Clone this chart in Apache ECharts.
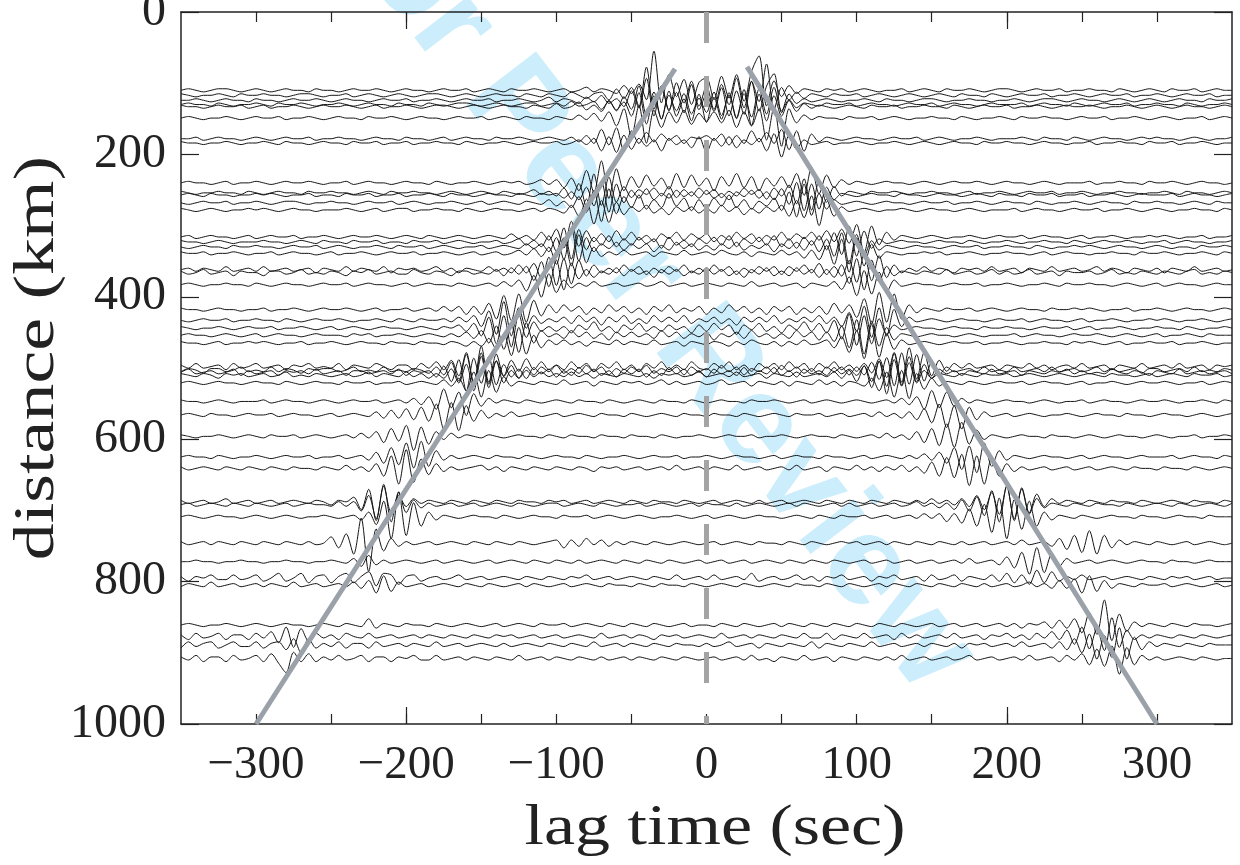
<!DOCTYPE html>
<html>
<head>
<meta charset="utf-8">
<title>Record section of noise cross-correlations</title>
<script src="https://cdn.jsdelivr.net/npm/echarts@6/dist/echarts.min.js"></script>
<style>
  html, body { margin: 0; padding: 0; background: #ffffff; }
  #chart { width: 1240px; height: 865px; }
</style>
</head>
<body>
<div id="chart"></div>
<script>
// Lag-time sampling of every trace (seconds)
const lagStart = -350;
const lagStep = 5;

// Inter-station distance of each trace (km)
const distanceKm = [110, 117, 124, 130, 133, 149, 178, 184, 240, 254, 257, 268, 278, 316, 323, 330, 339, 362, 366, 383,
  418, 433, 444, 454, 465, 498, 503, 506, 510, 521, 547, 566, 596, 625, 641, 688, 692, 709, 746, 772, 795, 805,
  861, 877, 889, 908];

// Trace amplitude unit, expressed as a distance offset (km)
const ampKmPerUnit = 2.2;

// Waveform samples, one row per trace, from -350 s to +350 s every 5 s
const waveforms = [
  [0,1,0,-1,0,1,1,0,-1,0, 1,0,-1,0,1,0,0,-1,1,0, 0,-1,0,1,0,0,1,0,-1,0, 1,0,0,-1,0,1,0,0,1,-1, 0,1,0,-1,1,0,0,1,0,-1, 0,1,-1,0,2,-1,1,0,-2,3, -2,4,-6,25,-8,10,-4,7,-9,5, 8,-6,9,-5,10,-7,12,22,-10,6, -4,3,-2,1,0,-1,1,0,1,-1, 0,1,0,-1,0,0,1,-1,0,1, 0,-1,1,0,0,1,0,-1,0,1, 1,0,-1,0,1,0,0,1,-1,0, 0,1,0,0,-1,1,0,-1,0,1, 0,-1,1,0,0,1,-1,0,1,0, 0],
  [1,0,-1,0,0,1,0,-1,1,0, 0,1,0,0,-1,0,1,1,0,-1, 0,0,1,-1,0,1,0,-1,0,1, 0,-1,0,1,1,0,-1,0,1,0, -1,0,1,0,0,-1,1,0,-1,1, 0,-1,2,0,-2,1,2,-3,4,-2, 5,-7,18,-9,6,-10,8,-5,9,-7, 6,-9,7,-6,11,-8,9,-4,20,-9, 5,-3,2,-2,1,0,-1,1,0,0, 1,-1,0,1,0,-1,0,1,0,-1, 0,1,0,-1,1,0,0,-1,1,0, -1,0,1,0,0,1,-1,0,0,1, 0,-1,0,1,0,0,1,-1,0,0, 1,0,-1,0,1,0,0,1,-1,0, 0],
  [0,0,1,0,-1,0,1,0,0,-1, 1,0,0,-1,0,1,0,0,1,0, -1,0,1,0,0,-1,0,1,0,0, 1,-1,0,0,1,0,-1,0,1,0, 0,1,-1,0,0,1,0,-1,0,2, -1,1,0,-2,2,-1,3,-2,1,-4, 6,-5,14,-10,9,-6,5,-8,10,-6, 4,-7,8,-10,6,-9,12,-7,9,17, -8,4,-2,1,-1,0,1,0,-1,0, 0,1,0,-1,1,0,0,-1,0,1, 1,0,-1,0,0,1,0,0,-1,0, 0,1,0,-1,0,1,1,0,-1,0, 1,0,0,-1,0,1,0,-1,0,1, 0,-1,0,1,0,0,-1,1,0,0, 1],
  [0,1,0,0,-1,1,0,-1,0,0, 1,0,-1,1,0,0,1,0,-1,0, 0,1,0,-1,0,1,0,0,-1,1, 0,0,-1,1,0,-1,0,1,1,0, -1,0,1,0,-1,0,1,1,-1,0, 1,-1,2,-1,0,2,-3,2,-4,5, -3,12,-7,8,-9,6,-4,7,-6,4, -5,8,-7,6,-9,7,-8,10,-6,11, -4,3,-2,1,0,-1,1,0,0,1, -1,0,1,0,0,-1,0,1,0,0, 1,-1,0,1,0,0,-1,0,1,0, 0,0,1,-1,0,1,0,0,-1,1, 0,-1,0,1,0,0,1,-1,0,0, 1,0,0,-1,1,0,-1,0,0,1, 0],
  [1,0,0,-1,0,1,0,0,1,-1, 0,1,-1,0,0,1,0,-1,0,1, 0,0,1,0,-1,0,1,-1,0,0, 1,0,-1,0,1,1,0,-1,0,1, 0,-1,0,1,0,0,-1,1,0,-1, 2,-1,0,3,-2,1,-3,4,-2,3, -6,9,-11,7,-8,10,-6,5,-9,8, -10,6,-8,9,-7,11,-12,8,-9,7, -6,4,-3,2,-1,1,0,-1,0,1, 0,-1,1,0,0,1,-1,0,0,1, 0,0,-1,1,0,-1,0,1,0,0, 1,-1,0,0,1,0,-1,0,1,0, 0,1,0,-1,0,0,1,0,-1,0, 1,0,-1,0,1,0,0,-1,0,1, 0],
  [0,1,0,-1,0,0,1,0,-1,0, 1,0,0,1,-1,0,0,1,0,-1, 0,1,0,0,-1,1,0,0,1,0, -1,0,1,0,0,-1,0,1,0,0, 1,-1,0,1,0,-1,1,0,0,-1, 1,0,-1,2,-1,3,-2,4,-5,6, -12,8,-16,5,-6,4,-3,5,-4,3, -2,4,-3,5,-6,4,-5,6,-14,7, -18,6,-3,2,-1,1,0,0,-1,1, 0,0,1,-1,0,1,0,-1,0,0, 1,0,0,-1,1,0,-1,0,0,1, 0,-1,1,0,0,1,0,0,-1,0, 1,0,0,1,-1,0,0,1,0,-1, 0,1,0,-1,0,0,1,-1,0,1, 0],
  [0,0,1,-1,0,1,0,0,-1,0, 1,0,-1,0,1,0,0,1,-1,0, 0,1,0,0,-1,0,1,0,0,-1, 1,0,0,-1,0,1,-1,0,1,0, 0,-1,1,0,0,1,0,-1,0,1, 0,-1,1,-2,2,-3,6,-4,7,-8, 5,-3,4,-2,3,-1,2,-3,1,0, 2,-1,3,-4,2,-3,5,-2,4,-3, 6,-7,5,-8,3,-2,1,0,-1,0, 1,0,0,-1,0,1,0,0,1,-1, 0,1,0,-1,0,0,1,0,-1,0, 0,0,1,0,-1,1,0,0,-1,1, 0,-1,0,1,0,0,-1,0,1,0, 1,0,0,-1,0,1,0,-1,0,0, 1],
  [1,0,0,-1,0,0,1,0,-1,0, 0,1,0,-1,1,0,0,-1,0,1, 0,0,-1,1,0,0,1,-1,0,0, 1,-1,0,0,1,0,0,-1,1,0, -1,0,0,1,0,-1,0,1,0,0, 1,-1,0,2,-1,3,-5,4,-6,5, -4,3,-2,2,-5,3,-1,2,-3,4, -6,3,-2,4,-3,2,-1,3,-5,6, -9,5,-4,2,-1,0,1,-1,0,0, 1,0,-1,0,0,1,0,-1,0,1, 0,-1,0,1,0,0,-1,1,0,0, 1,0,0,-1,0,1,0,0,-1,0, 0,1,-1,0,0,1,0,0,-1,1, 0,0,1,-1,0,0,1,0,-1,0, 0],
  [0,1,0,0,-1,0,1,-1,0,0, 1,0,-1,0,1,0,0,1,0,-1, 0,0,1,-1,0,1,0,0,-1,0, 1,0,0,-1,1,0,-1,0,0,1, 0,-1,0,1,0,1,-1,0,2,-1, 2,-3,3,-5,8,-6,14,-10,9,-5, 4,-3,5,-2,3,-4,6,-3,5,-2, 3,-5,4,-2,6,-3,4,-5,3,-2, 4,-3,6,-8,10,-7,5,-3,2,-1, 1,0,-1,0,1,0,0,-1,0,1, 0,-1,0,1,0,0,1,0,-1,0, 1,0,0,-1,0,1,0,-1,0,0, 0,1,-1,0,0,1,0,0,-1,1, 0,0,1,0,-1,0,1,0,0,-1, 0],
  [1,0,-1,0,0,1,0,0,-1,1, 0,-1,0,1,0,0,-1,1,0,0, 1,0,0,-1,0,1,0,-1,1,0, 0,1,0,0,-1,0,1,0,-1,0, 1,0,-1,1,0,-1,0,2,-1,1, -2,3,-4,6,-9,12,-8,10,-6,4, -3,2,-1,3,-2,4,-3,2,-2,3, -1,2,-3,1,-2,3,-1,2,-4,3, -2,5,-7,9,-11,8,-6,4,-2,1, 0,-1,1,0,0,1,0,-1,0,0, 1,0,0,-1,0,1,-1,0,0,1, 0,-1,0,1,0,0,1,-1,0,0, 1,0,-1,0,0,1,0,0,-1,0, 0,1,0,-1,1,0,0,-1,0,1, 0],
  [0,1,0,-1,1,0,0,-1,0,0, 1,0,1,0,-1,0,0,1,-1,0, 0,-1,1,0,0,1,-1,0,0,1, -1,0,0,1,0,-1,1,0,0,-1, 0,1,0,0,-1,1,0,-1,1,0, 1,-2,2,-3,5,-7,9,-11,7,-5, 3,-2,4,-3,1,-2,3,-1,2,-2, 3,-2,1,-3,2,-1,3,-2,2,-3, 4,-6,8,-10,7,-9,5,-3,1,0, -1,0,1,0,0,-1,1,0,0,-1, 0,1,0,0,-1,0,1,0,-1,1, 0,0,-1,1,0,0,1,-1,0,0, 1,-1,0,0,1,0,-1,0,1,0, 0,0,1,-1,0,1,0,0,-1,0, 1],
  [0,-1,0,1,0,0,1,-1,0,0, 1,0,-1,0,1,1,0,-1,0,0, 1,0,0,-1,0,1,0,0,1,-1, 0,1,0,-1,0,0,1,0,-1,0, 1,-1,0,1,0,-1,1,0,-1,2, -2,1,-3,4,-6,8,-12,9,-7,4, -3,5,-4,2,-3,6,-2,3,-5,2, -4,3,-2,5,-3,2,-4,1,-2,3, -5,7,-9,12,-8,6,-4,2,-1,0, 1,0,-1,0,1,0,0,-1,0,1, 0,0,1,-1,0,0,1,0,-1,0, 1,0,0,-1,1,0,-1,0,0,1, 0,-1,0,1,0,0,-1,1,0,0, 1,0,0,-1,0,1,0,-1,1,0, 0],
  [1,0,-1,0,1,0,-1,0,0,1, 0,1,0,-1,0,1,0,0,-1,0, 0,0,1,0,-1,0,1,-1,0,1, 1,-1,0,0,1,0,0,-1,1,0, -1,0,1,0,0,-1,0,1,-1,1, 0,-2,3,-4,7,-9,6,-8,5,-3, 2,-1,3,-2,1,-3,2,-1,2,-2, 1,-2,3,-1,2,-3,1,-2,2,-1, 3,-4,6,-5,9,-10,7,-4,2,-1, 0,1,0,-1,0,0,1,0,-1,0, 1,0,0,-1,0,1,0,-1,0,0, 0,1,-1,0,1,0,0,-1,0,1, 0,0,1,-1,0,0,1,0,-1,0, 1,0,-1,0,0,1,0,0,-1,1, 0],
  [0,1,-1,0,1,0,0,-1,0,1, -1,0,1,0,0,1,-1,0,0,1, 0,-1,0,1,0,0,1,0,-1,0, 1,0,-1,1,0,-1,0,1,0,-1, 0,1,0,-1,2,-1,1,-2,3,-2, 5,-7,10,-6,4,-3,2,-3,4,-2, 3,-2,1,-3,2,-1,3,-2,2,-1, 2,-3,1,-2,3,-1,2,-3,1,-2, 3,-2,2,-1,3,-2,4,-3,5,-4, 8,-10,7,-5,3,-2,1,0,-1,0, 1,0,-1,0,0,1,0,-1,0,1, 0,0,1,-1,0,1,0,0,-1,0, 1,-1,0,0,1,0,-1,0,0,1, 0,1,0,-1,0,0,1,-1,0,0, 1],
  [1,0,0,-1,0,1,0,-1,0,0, 0,1,0,0,-1,0,1,0,-1,1, 0,0,-1,1,0,0,1,-1,0,0, -1,1,0,0,1,-1,0,1,0,-1, 0,0,1,-1,0,2,-2,1,-3,4, -6,9,-11,8,-5,3,-2,4,-3,2, -2,3,-1,2,-4,3,-2,1,-3,2, -1,3,-2,4,-3,2,-1,3,-2,4, -3,2,-4,3,-2,4,-5,6,-8,10, -9,7,-4,2,-1,0,1,0,0,-1, 0,1,0,0,-1,1,0,-1,0,0, 1,0,-1,0,0,1,0,0,-1,1, 0,-1,0,1,0,0,1,0,-1,0, 0,1,-1,0,1,0,0,-1,0,0, 1],
  [0,-1,0,1,0,0,-1,1,0,0, 1,0,0,-1,0,1,0,0,1,-1, 0,1,0,-1,0,0,1,0,-1,1, 0,0,1,-1,0,1,0,-1,0,0, 1,-1,0,1,0,-1,2,-1,2,-3, 6,-8,12,-9,6,-3,2,-1,3,-2, 2,-1,2,-3,1,-2,3,-1,2,-2, 1,-2,2,-1,3,-2,1,-1,2,-3, 2,-1,3,-2,4,-3,5,-6,9,-11, 8,-6,4,-2,1,0,-1,0,1,0, 0,-1,0,1,0,0,1,-1,0,0, 1,0,0,-1,1,0,-1,0,0,1, 0,1,0,-1,0,1,0,0,-1,0, 1,0,-1,0,0,-1,1,0,0,1, 0],
  [1,0,0,1,-1,0,0,1,0,-1, 0,0,1,-1,0,1,0,0,-1,0, 1,-1,0,0,1,0,-1,0,1,0, 0,1,-1,0,0,1,0,-1,0,1, -1,0,1,-1,0,2,-1,3,-2,4, -7,10,-8,12,-6,4,-2,1,-1,2, -1,0,1,-2,1,0,-1,2,-1,0, 1,-1,2,0,-1,1,-2,1,0,-1, 2,-1,1,-3,2,-4,5,-7,9,-12, 10,-8,6,-3,1,0,-1,0,0,1, 0,1,-1,0,0,1,0,-1,0,0, 1,0,0,-1,0,1,-1,0,1,0, 0,-1,0,0,1,0,0,-1,1,0, 0,1,0,-1,0,0,1,0,-1,1, 0],
  [0,1,-1,1,0,-1,2,-1,0,1, -1,2,-1,0,1,-1,0,1,-2,1, 0,-1,2,-1,1,0,-1,2,-2,1, 0,1,-1,0,2,-1,1,-2,1,0, -1,2,-1,1,-2,3,-2,4,-6,8, -10,7,-9,6,-4,3,-2,1,-2,3, -1,2,-3,1,-2,2,-1,3,-2,1, -2,3,-1,2,-3,1,-2,2,-1,2, -3,2,-1,3,-2,4,-3,2,-4,6, -8,10,-7,9,-5,3,-2,1,-1,2, -1,1,0,-2,1,0,1,-1,2,-1, 0,1,-2,1,0,-1,2,-1,0,1, -1,0,2,-1,1,0,-2,1,0,-1, 1,-2,1,0,-1,2,-1,0,1,-1, 0],
  [1,-1,0,2,-1,0,1,-2,1,0, 0,-2,1,1,-1,0,2,-1,0,-1, 1,0,-2,1,0,2,-1,0,1,-1, -1,2,0,-1,1,0,-2,1,1,-1, 0,-1,2,-2,3,-1,4,-5,7,-9, 8,-11,6,-4,2,-3,1,-1,3,-2, 2,-1,1,-3,2,-1,2,-2,1,-1, 3,-1,2,-2,1,-3,2,-1,3,-2, 1,-2,3,-1,2,-3,2,-3,5,-7, 9,-11,8,-6,4,-2,1,0,-1,1, 0,-1,2,-1,0,1,-1,0,2,-1, 1,-1,0,2,-1,0,1,-2,1,0, 0,1,-1,0,2,-1,0,-1,1,0, -1,1,0,-1,1,2,-1,0,-1,1, 0],
  [0,1,0,-1,0,0,1,0,0,-1, 1,0,-1,0,1,0,0,-1,0,1, 0,0,1,-1,0,1,0,0,-1,0, 1,-1,0,1,0,0,-1,1,0,-1, 0,1,-1,2,-1,3,-4,6,-8,7, -5,3,-2,1,-1,2,-1,0,1,-1, 0,1,-1,0,2,-1,0,1,-1,0, 1,0,-1,1,0,-1,2,-1,0,1, -1,0,1,-2,1,0,-1,2,-3,5, -7,9,-6,8,-5,3,-1,0,1,0, 0,-1,0,1,0,0,1,-1,0,0, 1,0,-1,0,0,1,0,-1,1,0, 0,1,0,0,-1,0,1,0,-1,0, 1,-1,0,1,0,0,-1,0,1,0, 0],
  [1,0,0,-1,0,1,0,0,-1,0, 0,1,-1,0,0,1,0,-1,0,1, 0,0,1,0,-1,0,1,-1,0,0, 1,-1,0,1,-1,2,-1,2,-3,2, -3,4,-6,9,-7,10,-8,6,-4,3, -2,3,-1,2,-3,1,-2,3,-1,2, -2,1,-3,2,-1,3,-2,1,-1,2, -3,1,-2,3,-1,2,-2,1,-3,2, -1,2,-3,1,-2,2,-3,4,-2,3, -5,7,-9,11,-8,10,-6,3,-2,1, 0,-1,1,0,0,1,-1,0,1,0, -1,0,1,0,0,-1,1,0,0,1, 0,1,0,-1,0,0,1,-1,0,0, 1,0,-1,0,1,0,0,-1,0,1, 0],
  [0,-1,0,1,0,0,1,-1,0,0, 1,0,0,-1,1,0,-1,0,1,0, 0,1,0,-1,0,0,1,0,-1,1, 0,-1,1,0,0,1,-1,2,-1,3, -4,6,-9,12,-10,8,-5,3,-2,1, -1,2,-2,3,-1,2,-3,2,-1,3, -2,1,-2,3,-1,2,-1,3,-2,1, -1,2,-2,1,-3,2,-1,2,-1,3, -2,1,-1,2,-1,3,-2,2,-4,5, -7,9,-11,8,-10,7,-4,2,-1,0, 1,0,-1,0,1,0,0,-1,0,1, 0,0,1,-1,0,1,0,0,-1,0, 1,-1,0,0,1,0,-1,0,0,1, 0,1,0,-1,0,0,1,0,-1,0, 1],
  [1,0,-1,0,0,1,0,-1,0,1, 0,0,1,-1,0,0,1,0,-1,0, 1,-1,0,1,0,-1,0,1,0,0, -1,0,1,0,-1,1,0,2,-2,3, -5,7,-10,8,-12,9,-6,4,-2,1, -2,1,-3,2,-1,4,-2,1,-3,2, -1,3,-2,1,-2,2,-1,1,-3,2, -2,3,-1,2,-4,2,-1,3,-2,1, -3,2,-1,4,-2,3,-3,5,-7,9, -11,8,-10,6,-4,2,-1,0,1,0, 0,-1,0,1,0,0,-1,1,0,0, 1,0,0,-1,0,1,0,0,1,-1, 0,1,-1,0,0,1,0,-1,0,0, 1,0,0,-1,1,0,-1,0,0,1, 0],
  [0,1,0,0,-1,0,1,0,-1,0, 1,-1,0,1,0,0,-1,0,1,0, 0,0,-1,1,0,1,-1,0,0,1, 0,-1,0,1,0,-1,1,-1,2,-2, 3,-5,6,-9,7,-11,8,-5,3,-1, 1,-2,3,-1,2,-2,1,-3,2,-1, 2,-1,1,-2,3,-1,2,-2,1,-1, 2,-3,1,-1,2,-2,3,-1,1,-2, 1,-2,3,-1,2,-3,2,-4,6,-8, 10,-12,9,-7,5,-3,1,0,-1,0, 1,0,0,-1,0,1,0,-1,0,0, 0,1,-1,0,1,0,0,-1,0,1, 0,0,1,0,-1,0,1,0,-1,0, 1,-1,0,0,1,0,-1,1,0,0, 0],
  [1,0,0,-1,0,1,-1,0,0,1, 0,1,0,-1,0,0,1,-1,0,0, 1,0,-1,0,1,0,0,-1,1,0, 0,-1,1,0,0,-1,1,0,-2,1, -2,3,-4,6,-8,10,-7,5,-3,2, -1,2,-1,1,-2,1,0,-1,2,-1, 1,0,-1,2,-1,0,1,-2,1,0, -1,1,0,-2,1,-1,2,0,-1,1, -2,1,-1,2,-1,0,2,-3,4,-6, 8,-10,12,-9,6,-4,2,-1,0,1, 0,-1,0,1,0,0,1,-1,0,0, 1,0,-1,0,0,1,0,0,-1,1, 0,1,0,-1,0,1,-1,0,0,1, 0,0,1,-1,0,0,1,0,-1,0, 0],
  [1,-1,2,-1,0,1,-2,2,-1,0, 2,-1,0,1,-2,1,0,2,-1,0, -1,2,-2,1,0,-1,2,0,-2,1, 1,-2,2,-1,3,-2,4,-6,9,-11, 13,-10,8,-6,4,-3,5,-2,3,-2, 1,-2,3,-1,2,-3,2,-1,3,-2, 1,-3,2,-1,3,-2,1,-2,3,-1, -2,2,-1,3,-2,1,-3,2,-1,2, -2,3,-1,2,-3,2,-1,3,-2,1, -3,2,-4,5,-7,9,-10,12,-8,9, -6,4,-3,2,-1,2,-1,0,1,-2, 1,0,-1,2,-1,1,-2,0,1,-1, 2,-1,0,1,-2,1,0,-1,2,-1, 0,1,-1,2,-1,0,1,-2,1,0, 1],
  [-1,1,0,-2,1,1,-1,0,2,-1, 0,-1,2,-1,1,0,-2,1,0,1, 1,-1,0,2,-1,0,-1,2,-1,0, -1,1,0,-2,2,-3,5,-7,10,-8, 11,-9,6,-4,3,-5,2,-3,2,-1, 3,-2,1,-2,3,-1,2,-3,1,-2, 2,-1,3,-2,1,-1,2,-3,2,-1, 1,-2,3,-1,2,-3,1,-1,2,-2, 3,-1,2,-2,1,-3,2,-1,2,-3, 2,-3,5,-6,8,-10,11,-9,10,-7, 5,-3,2,-1,0,1,-1,2,-1,0, -1,2,-1,0,1,-1,2,-1,0,1, -1,0,2,-1,1,-1,0,1,-2,1, 1,-1,0,1,-1,2,-1,0,-1,1, 0],
  [0,2,-1,0,1,-1,0,2,-2,1, -1,0,1,-2,1,0,1,-1,2,-1, 0,1,-2,1,1,-1,0,1,-1,2, -2,1,0,1,-3,4,-6,8,-12,9, -7,10,-8,5,-3,2,-4,3,-1,2, -3,1,-2,3,-1,2,-2,1,-3,2, -1,2,-3,1,-2,3,-1,2,-2,1, -3,2,-1,1,-2,3,-2,1,-1,3, -2,1,-3,2,-1,1,-2,3,-1,2, -2,4,-6,7,-9,12,-8,10,-6,5, -4,2,-1,1,-2,1,0,-1,2,-1, 0,1,-2,1,0,-1,1,0,2,-1, 1,-1,0,-1,2,0,-1,1,0,-2, 1,0,-1,2,-1,0,1,-1,0,1, -1],
  [1,0,-1,1,0,-2,1,0,1,-1, 0,1,-1,0,2,-1,0,-1,1,0, -1,0,1,-1,0,2,-1,1,0,-1, 2,-1,1,-2,1,-2,4,-5,7,-10, 12,-8,9,-5,3,-2,3,-1,2,-1, 1,-1,2,-1,1,-2,1,0,-1,1, 0,-1,1,-2,1,0,1,-1,0,2, -1,0,1,-1,2,-1,0,1,-2,1, 0,-1,2,-1,0,1,-1,2,-2,3, -4,6,-8,9,-12,10,-7,8,-5,3, -2,1,0,-1,1,0,-1,1,0,0, 1,-1,0,1,0,-1,0,1,0,-1, 0,1,0,-1,1,0,0,-1,0,1, -1,0,1,0,-1,1,0,0,1,-1, 0],
  [0,1,0,-1,0,1,0,0,-1,0, 1,0,0,-1,1,0,-1,0,1,0, 0,-1,1,0,0,1,-1,0,0,1, -1,0,1,0,-1,2,-2,3,-5,7, -9,8,-6,4,-2,1,0,-1,1,0, -1,2,-1,0,1,-2,1,0,-1,1, 0,1,-1,0,2,-1,1,-1,0,1, -1,0,2,-1,0,1,-2,1,0,-1, 1,-2,1,0,-1,2,-1,1,-2,1, 0,-2,3,-5,7,-9,8,-10,6,-4, 3,-2,1,0,-1,1,0,-1,0,1, 0,0,1,-1,0,1,0,0,-1,0, 1,-1,0,0,1,0,-1,0,1,0, 0,1,0,-1,0,0,1,-1,0,1, 0],
  [1,0,0,-1,0,1,0,-1,0,0, 0,1,-1,0,1,0,0,-1,0,1, 0,-1,0,1,0,0,1,-1,0,1, -1,2,-2,3,-5,8,-4,6,-9,5, -3,2,-1,1,0,-1,1,0,-1,0, 1,0,-1,1,0,0,-1,1,0,-1, 0,1,0,-1,1,0,0,-1,1,0, -1,0,1,0,0,-1,1,0,0,1, 0,-1,0,1,-1,0,1,0,-1,0, 1,0,-1,0,1,-1,2,-2,3,-5, 7,-4,6,-3,2,-1,1,0,-1,0, 1,0,0,-1,0,1,0,-1,0,0, 1,-1,0,1,0,0,-1,0,1,0, 0,1,0,-1,0,0,1,0,-1,1, 0],
  [0,1,0,-1,1,0,0,-1,0,1, 0,0,1,-1,0,1,0,0,-1,0, 1,-1,0,1,0,-1,2,-2,3,-2, 4,-3,5,-4,7,-9,8,-10,6,-4, 3,-2,1,-1,2,-1,0,1,-1,0, 1,-1,0,1,0,-1,1,0,0,-1, 1,0,-1,0,1,0,-1,1,0,0, -1,1,0,0,-1,1,0,-1,0,1, 0,-1,1,0,0,1,-1,0,1,-1, 0,1,-1,2,-1,1,-2,2,-3,4, -5,7,-8,6,-9,5,-3,2,-1,0, 1,-1,0,1,0,-1,0,0,1,0, -1,0,1,0,0,-1,1,0,0,-1, 0,1,0,0,-1,0,1,0,-1,0, 1],
  [1,0,-1,0,0,1,0,-1,0,1, 0,-1,1,0,0,1,-1,0,1,0, -1,0,1,-1,2,-1,3,-4,5,-3, 7,-9,6,-5,3,-2,2,-1,1,0, -1,1,0,-1,0,1,0,0,-1,1, 0,-1,1,0,0,-1,1,0,0,-1, 1,0,0,-1,1,0,-1,0,0,1, 0,-1,0,1,0,0,1,-1,0,0, 1,0,-1,0,1,0,0,-1,1,0, -1,0,1,-1,2,-1,1,-2,3,-4, 5,-6,8,-7,9,-5,4,-2,1,0, -1,0,1,0,0,-1,1,0,0,-1, 0,1,0,-1,0,1,0,0,-1,0, 1,0,-1,0,0,1,-1,0,0,1, 0],
  [0,1,0,0,-1,1,0,-1,0,0, 1,0,-1,0,1,0,0,1,-1,0, 0,1,-1,0,1,-2,3,-4,6,-5, 9,-7,10,-6,4,-2,1,-1,0,1, 0,-1,1,0,0,-1,1,0,-1,0, 1,0,0,-1,1,0,-1,0,0,1, 0,-1,0,1,0,0,1,-1,0,0, 1,0,-1,0,1,0,0,-1,0,1, -1,0,1,0,0,-1,1,0,0,-1, 0,1,-1,0,1,0,-1,1,-1,2, -2,3,-4,6,-8,7,-10,9,-6,4, -2,1,0,-1,0,1,0,0,-1,0, 1,-1,0,1,0,0,-1,0,1,0, 0,0,1,-1,0,1,0,0,-1,1, 0],
  [1,-1,0,1,0,-1,1,0,-1,1, 0,-1,1,0,-1,1,0,0,-1,1, 0,-1,2,-1,1,-2,3,-5,8,-10, 12,-9,6,-4,3,-2,1,-1,0,1, 2,-1,1,-2,1,0,-1,1,0,-1, 1,0,-1,1,0,-2,1,0,1,-1, 0,1,-1,0,1,-1,2,-1,0,1, -1,1,0,-1,2,-1,0,1,-1,0, 1,-1,2,-1,0,1,-2,1,0,-1, 2,-1,1,-2,1,-1,2,-2,1,-3, 4,-5,7,-6,9,-11,8,-10,7,-5, 3,-2,1,-1,0,1,-1,0,1,-1, 0,1,-1,0,1,0,-1,1,0,0, -1,1,0,0,-1,1,0,-1,0,1, 0],
  [1,-1,0,1,-1,0,2,-1,0,1, -1,0,1,-1,0,1,0,-1,1,0, -2,1,0,3,-5,8,-12,10,-7,4, -3,2,-1,1,0,-1,1,0,-1,1, 0,-1,1,0,-1,1,0,0,-1,1, 0,1,-1,0,1,-1,0,1,0,-1, 1,0,-1,1,0,0,-1,1,0,-1, 0,1,-1,0,1,0,-1,1,-1,0, 1,-1,0,1,0,-1,1,0,-1,1, 0,-1,1,0,-1,1,0,-1,1,-1, 2,-1,1,-2,2,-3,4,-5,6,-8, 10,-12,9,-7,5,-3,2,-1,1,0, -1,1,0,-1,1,0,0,-1,1,0, -1,0,1,0,-1,1,0,0,-1,1, 0],
  [0,1,-1,0,1,0,-1,1,0,-1, 1,0,-1,0,1,-1,0,1,0,0, -1,2,-1,2,-4,6,-9,13,-11,8, -5,3,-2,1,-1,0,1,-1,0,1, -1,0,1,0,-1,1,0,-1,0,1, 1,-1,0,1,0,-1,1,0,-1,0, 0,1,-1,0,1,0,-1,0,1,-1, 1,0,0,-1,1,-1,0,1,0,-1, 0,1,-1,1,0,-1,0,1,-1,1, -1,0,1,-1,0,1,-1,0,2,-1, 1,-2,1,-3,3,-4,5,-7,9,-11, 12,-9,10,-6,4,-2,1,0,-1,1, 0,-1,1,0,0,-1,1,0,-1,0, 1,0,-1,1,0,-1,0,1,0,-1, 1],
  [0,1,0,-1,0,1,0,0,-1,0, 1,0,-1,0,1,0,-1,0,0,1, 0,-1,0,1,-2,3,-5,10,-14,16, -12,9,-6,3,-2,1,0,-1,0,1, 0,0,-1,1,0,-1,0,1,0,0, -1,1,0,0,1,-1,0,1,0,-1, 0,1,0,-1,0,0,1,0,-1,0, 1,-1,0,1,0,-1,0,1,0,0, -1,0,1,0,-1,1,0,-1,1,0, 0,1,-1,0,1,-1,0,1,-1,2, -1,2,-3,2,-4,5,-6,8,-10,12, -14,11,-8,10,-6,3,-2,1,0,-1, 1,0,-1,0,1,0,0,-1,1,0, 0,-1,0,1,0,0,-1,1,0,0, 0],
  [1,-1,0,1,-1,1,0,-1,1,0, -1,1,0,-1,1,0,-1,1,-1,0, 4,-3,6,-7,16,-18,9,-5,3,-2, 1,-1,0,1,-1,0,1,0,-1,1, 0,-1,1,0,-1,1,0,-1,0,1, 2,-3,2,-2,3,-1,2,-2,1,-1, 1,0,-1,1,0,-1,0,1,0,-1, 0,1,-1,0,1,0,-1,1,0,0, -1,1,0,-1,1,0,-1,0,1,0, 1,-1,0,1,-1,1,0,-1,1,0, -1,1,0,-1,1,-1,0,1,-1,0, 1,-1,2,-1,0,1,-2,3,-4,5, -6,8,-7,5,-3,2,-1,1,0,-1, 1,0,-1,0,1,-1,0,1,0,-1, 0],
  [0,0,1,0,0,-1,0,0,1,0, 0,-1,0,0,1,0,0,-1,0,0, 1,0,-1,2,-3,4,-2,1,-1,0, 1,0,-1,0,1,-1,0,1,0,-1, 0,1,-1,0,1,0,-1,1,0,-1, 1,0,-1,1,-1,0,1,0,-1,1, 0,-1,1,0,-1,1,0,-1,0,1, -1,0,1,-1,0,1,-1,0,1,0, -1,1,0,-1,1,0,-1,1,0,-1, 0,1,-1,0,1,-1,0,1,-1,0, 1,-1,0,1,-1,2,-1,0,1,-2, 3,-4,6,-8,9,-7,5,-3,2,-1, 0,1,-1,0,1,0,-1,0,1,0, 0,-1,1,0,0,-1,0,1,0,0, 0],
  [1,-2,1,0,2,-1,-1,2,-1,0, 2,-2,0,3,-2,0,3,-3,1,2, -3,1,3,-3,1,4,-5,3,2,-4, 1,2,-2,0,1,-1,0,2,-1,0, 1,-1,0,1,0,-1,1,0,-1,1, 0,-1,1,0,2,-1,0,1,-1,0, 1,0,-1,1,0,-1,2,-1,0,1, -1,2,-1,0,1,-1,3,-2,0,1, -1,0,2,-1,1,-2,1,0,2,-1, 0,1,-2,1,0,2,-1,0,1,-2, 2,-1,0,2,-2,1,0,-1,2,-2, 3,-3,2,-4,5,-3,4,-2,1,-1, 2,-1,0,1,-1,0,1,0,-1,1, 0,-1,1,0,1,-1,0,1,-1,0, 0],
  [-1,1,0,-1,2,-1,0,1,-1,0, 1,-1,1,0,-1,2,-1,0,1,-1, 0,1,-1,2,-2,3,-5,6,-4,2, -1,0,1,-1,0,1,0,-1,1,0, -1,1,0,-1,0,1,-1,1,0,-1, 0,1,-1,0,1,0,-1,1,0,0, -1,1,0,-1,1,0,0,-1,1,0, -1,0,1,0,-1,1,0,-1,0,1, 0,-1,1,0,0,-1,1,0,-1,1, 0,-1,0,1,-1,1,0,-1,1,0, -1,1,0,-1,1,0,-1,1,-1,0, 1,-1,0,2,-1,1,-2,3,-2,4, -5,6,-4,3,-2,1,0,-1,1,0, 0,1,-1,0,1,0,-1,0,1,-1, 0],
  [0,1,0,-1,0,0,1,0,-1,0, 1,0,-1,0,1,0,0,-1,0,1, 0,-1,1,0,-1,4,-2,1,0,-1, 1,0,0,-1,1,0,-1,0,1,0, -1,0,1,-1,0,1,0,-1,1,0, 0,1,-1,0,1,0,-1,1,0,-1, 1,0,-1,1,0,-1,0,1,-1,0, 0,-1,1,0,-1,1,0,-1,0,1, -1,1,0,-1,1,0,-1,1,0,-1, 1,0,-1,1,0,-1,1,0,-1,0, 1,-1,0,1,-1,0,1,-1,0,1, -1,1,-2,1,0,2,-2,3,-2,4, -5,8,-6,16,-10,7,-4,2,-1,1, 0,-1,1,0,-1,1,0,0,-1,0, 1],
  [1,-2,2,-1,0,2,-2,1,1,-2, 2,-1,3,-4,6,-7,5,-3,2,-1, 1,-2,2,0,-1,2,-1,0,1,-1, 0,1,-1,1,0,-1,1,0,-1,1, 0,-1,1,0,1,-1,0,1,-1,0, 1,-1,0,1,0,-1,2,-1,0,1, -1,1,0,-2,1,0,1,-1,0,1, 0,-1,2,-1,0,1,-1,1,0,-1, 1,0,-1,2,-1,-1,2,-2,1,0, -1,2,-1,0,1,-2,2,-1,1,-1, 0,1,-1,2,-1,0,1,-2,1,0, 2,-1,1,-2,2,-1,3,-2,4,-5, 6,-8,5,-9,12,-7,4,-2,1,-1, 1,0,-1,1,0,-1,1,0,-1,0, 1],
  [-2,2,-1,1,2,-2,0,2,-1,-1, 2,-2,1,2,-3,4,-5,4,-2,1, -1,2,-2,1,1,-2,2,-1,0,1, -1,1,0,-1,2,-1,0,1,-1,0, 1,0,-1,1,-1,0,1,0,-1,1, 0,-1,1,0,-1,2,-1,0,1,-1, 1,0,-1,1,0,-1,1,0,0,-1, 1,-1,0,2,-1,0,1,-2,1,0, -1,1,0,-1,2,-2,1,0,-1,1, 0,-1,2,-1,0,1,-1,0,1,-1, 1,0,-1,1,-2,1,0,1,-1,0, 1,-1,2,-1,0,1,-2,2,-3,4, -5,7,-9,6,-8,11,-9,5,-3,2, -1,1,0,-1,1,0,-1,1,0,0, 0],
  [1,-1,2,-2,1,1,-2,2,-1,0, 2,-2,3,-3,-9,4,-2,3,-2,1, -1,2,-1,0,2,-2,1,1,-2,1, 0,2,-1,-1,2,-1,0,1,-1,1, 0,-1,1,0,-1,2,-1,0,1,-1, 1,0,-1,1,0,-1,1,-1,0,1, -1,1,0,-1,1,0,-1,1,0,-1, 0,1,-1,0,1,-1,2,-1,0,-2, 1,0,-1,2,-1,0,1,-2,1,0, -1,1,0,-1,1,-1,2,-1,0,1, -1,0,1,-1,0,2,-1,0,1,-1, 0,1,-1,2,-1,0,1,-2,2,-1, 3,-4,6,-5,8,-10,7,-4,2,-1, 1,-1,0,1,0,-1,1,0,-1,0, 0]
];

// Moveout guides (lag time in s, distance in km)
const moveoutNegative = [[-21, 80], [-300, 1000]];
const moveoutPositive = [[27, 77], [300, 1000]];
const zeroLag = [[0, 0], [0, 1000]];

// Tick positions and labels
const timeTickLabels = [-300, -200, -100, 0, 100, 200, 300];
const timeMinorTicks = [-300, -250, -200, -150, -100, -50, 0, 50, 100, 150, 200, 250, 300];
const timeLongTicks = [-200, 200];
const distanceTickLabels = [0, 200, 400, 600, 800, 1000];

const serif = '"Liberation Serif", "DejaVu Serif", serif';
const frameColor = '#222222';

const traceSeries = distanceKm.map((d, k) => ({
  type: 'line',
  xAxisIndex: 0,
  yAxisIndex: 0,
  data: waveforms[k].map((a, i) => [lagStart + i * lagStep, d - ampKmPerUnit * a]),
  showSymbol: false,
  smooth: 0.3,
  silent: true,
  lineStyle: { color: '#151515', width: 1 },
  z: 2
}));

const guideSeries = [
  {
    type: 'line', data: moveoutNegative, showSymbol: false, silent: true,
    lineStyle: { color: '#9ba1a8', width: 5 }, z: 5
  },
  {
    type: 'line', data: moveoutPositive, showSymbol: false, silent: true,
    lineStyle: { color: '#9ba1a8', width: 5 }, z: 5
  },
  {
    type: 'line', data: zeroLag, showSymbol: false, silent: true,
    lineStyle: { color: '#a4a4a4', width: 5, type: [31, 33] }, z: 5
  }
];

const chart = echarts.init(document.getElementById('chart'), null, { renderer: 'canvas' });

const baseX = {
  type: 'value', min: -350, max: 350, interval: 50,
  splitLine: { show: false }
};
const baseY = {
  type: 'value', inverse: true, min: 0, max: 1000, interval: 200,
  splitLine: { show: false }
};

chart.setOption({
  animation: false,
  backgroundColor: '#ffffff',
  grid: { left: 181, right: 8, top: 12, bottom: 141, containLabel: false, outerBoundsMode: 'none' },
  xAxis: [
    Object.assign({}, baseX, {
      position: 'bottom',
      axisLine: { show: true, onZero: false, lineStyle: { color: frameColor, width: 1.5 } },
      axisTick: { show: true, inside: true, length: 10, customValues: timeMinorTicks, lineStyle: { color: frameColor, width: 1.2 } },
      axisLabel: {
        show: true, customValues: timeTickLabels, margin: 18,
        color: frameColor, fontFamily: serif, fontSize: 47,
        formatter: v => (v < 0 ? '\u2212' + (-v) : String(v))
      }
    }),
    Object.assign({}, baseX, {
      position: 'top',
      axisLine: { show: true, onZero: false, lineStyle: { color: frameColor, width: 1.5 } },
      axisTick: { show: true, inside: true, length: 10, customValues: timeMinorTicks, lineStyle: { color: frameColor, width: 1.2 } },
      axisLabel: { show: false }
    }),
    Object.assign({}, baseX, {
      position: 'bottom',
      axisLine: { show: false, onZero: false },
      axisTick: { show: true, inside: true, length: 17, customValues: timeLongTicks, lineStyle: { color: frameColor, width: 1.2 } },
      axisLabel: { show: false }
    }),
    Object.assign({}, baseX, {
      position: 'top',
      axisLine: { show: false, onZero: false },
      axisTick: { show: true, inside: true, length: 17, customValues: timeLongTicks, lineStyle: { color: frameColor, width: 1.2 } },
      axisLabel: { show: false }
    })
  ],
  yAxis: [
    Object.assign({}, baseY, {
      position: 'left',
      axisLine: { show: true, onZero: false, lineStyle: { color: frameColor, width: 1.5 } },
      axisTick: { show: true, inside: true, length: 18, lineStyle: { color: frameColor, width: 1.2 } },
      axisLabel: {
        show: true, customValues: distanceTickLabels, margin: 15,
        color: frameColor, fontFamily: serif, fontSize: 48,
        formatter: v => String(v)
      }
    }),
    Object.assign({}, baseY, {
      position: 'right',
      axisLine: { show: true, onZero: false, lineStyle: { color: frameColor, width: 1.5 } },
      axisTick: { show: true, inside: true, length: 18, lineStyle: { color: frameColor, width: 1.2 } },
      axisLabel: { show: false }
    })
  ],
  graphic: {
    elements: [
      {
        type: 'text', silent: true, z: 0,
        x: 645, y: 280, rotation: -52.5 * Math.PI / 180,
        style: {
          text: 'For Peer Review',
          font: 'bold 128px "Liberation Sans", Arial, sans-serif',
          fill: '#cbedfc',
          align: 'center', verticalAlign: 'middle',
          textAlign: 'center', textVerticalAlign: 'middle'
        }
      },
      {
        type: 'text', silent: true, z: 10,
        x: 715, y: 829, scaleX: 1.25,
        style: {
          text: 'lag time (sec)',
          font: '56px "Liberation Serif", "DejaVu Serif", serif',
          fill: frameColor,
          align: 'center', verticalAlign: 'middle',
          textAlign: 'center', textVerticalAlign: 'middle'
        }
      },
      {
        type: 'text', silent: true, z: 10,
        x: 38, y: 358, rotation: Math.PI / 2, scaleX: 1.32,
        style: {
          text: 'distance (km)',
          font: '56px "Liberation Serif", "DejaVu Serif", serif',
          fill: frameColor,
          align: 'center', verticalAlign: 'middle',
          textAlign: 'center', textVerticalAlign: 'middle'
        }
      }
    ]
  },
  series: traceSeries.concat(guideSeries)
});
</script>
</body>
</html>
